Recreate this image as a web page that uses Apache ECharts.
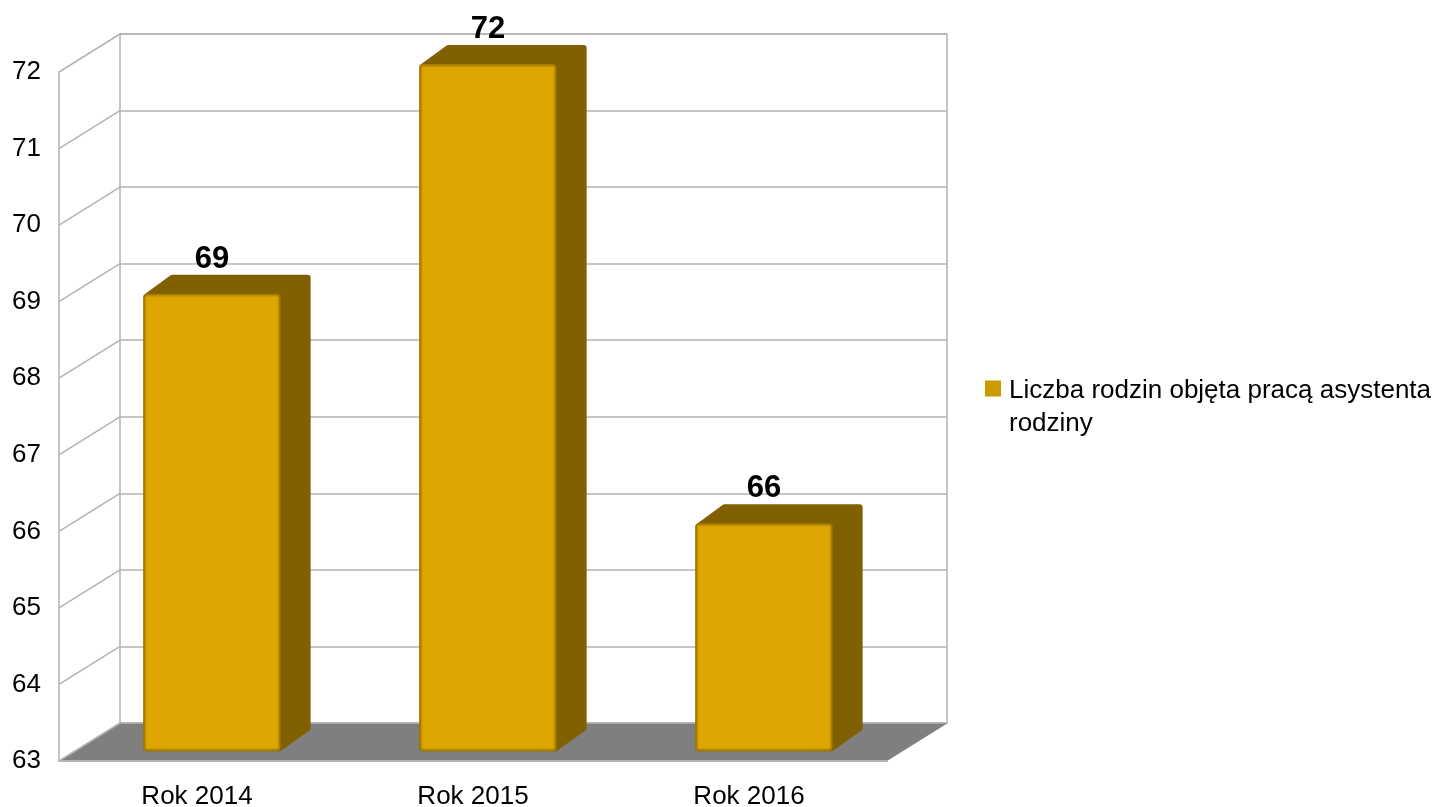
<!DOCTYPE html>
<html><head><meta charset="utf-8">
<style>html,body{margin:0;padding:0;background:#fff}#c{width:1439px;height:807px}</style>
<script src="https://cdn.jsdelivr.net/npm/echarts@6/dist/echarts.min.js"></script></head>
<body><div id="c"></div>
<script>
const categories = ['Rok 2014', 'Rok 2015', 'Rok 2016'];
const values = [69, 72, 66];
const yTicks = [63, 64, 65, 66, 67, 68, 69, 70, 71, 72];
const seriesName = 'Liczba rodzin objęta pracą asystenta\nrodziny';

const FONT = '"Liberation Sans", Arial, sans-serif';
const GRID_C = '#b3b3b3';
const WALL = [61, -38];
const DEPTH = [31, -20];
const BAR_BASE = 63.05;
const chart = echarts.init(document.getElementById('c'), null, {renderer: 'canvas'});

function yAxis(idx, shown) {
  return {
    type: 'value', gridIndex: idx, min: 63, max: 72, interval: 1, z: 3,
    axisLine: {show: shown, onZero: false, lineStyle: {color: GRID_C, width: 1.5}},
    axisTick: {show: false},
    axisLabel: {show: shown, margin: 18, padding: [3, 0, 0, 0], color: '#000', fontSize: 26, fontFamily: FONT},
    splitLine: {show: idx === 1, lineStyle: {color: GRID_C, width: 1.5}}
  };
}
function xAxis(idx, shown) {
  return {
    type: 'category', gridIndex: idx, data: categories, z: 3,
    axisLine: {show: shown, onZero: false, lineStyle: {color: GRID_C, width: 2}},
    axisTick: {show: false},
    axisLabel: {show: shown, margin: 23, color: '#000', fontSize: 26, fontFamily: FONT},
    splitLine: {show: false}
  };
}

function renderFloor(params, api) {
  const a = api.coord([0, 63]), s = api.size([1, 0]);
  const x0 = a[0] - s[0] / 2, x1 = x0 + s[0] * categories.length, y = a[1];
  return {type: 'polygon', shape: {points: [[x0, y], [x1, y], [x1 + WALL[0], y + WALL[1]], [x0 + WALL[0], y + WALL[1]]]},
    style: {fill: '#7f7f7f'}};
}
function renderSlant(params, api) {
  const p = api.coord([0, api.value(0)]), s = api.size([1, 0]);
  const x0 = p[0] - s[0] / 2;
  return {type: 'line', shape: {x1: x0, y1: p[1], x2: x0 + WALL[0], y2: p[1] + WALL[1]},
    style: {stroke: GRID_C, lineWidth: 1.5}};
}
function renderBar(params, api) {
  const top = api.coord([api.value(0), api.value(1)]);
  const base = api.coord([api.value(0), BAR_BASE]);
  const w = api.size([1, 0])[0] * 0.49;
  const l = top[0] - w / 2, r = top[0] + w / 2, dx = DEPTH[0], dy = DEPTH[1];
  const t = top[1], b = base[1];
  const inset = (d, fill) => ({type: 'rect', shape: {x: l - 1 + d, y: t - 1 + d, width: w + 2 - 2 * d, height: b - t + 2 - 2 * d, r: Math.max(4 - d, 0)}, style: {fill}});
  return {type: 'group', children: [
    {type: 'polygon', shape: {points: [[l + 2, t + 2], [l + dx - 3, t + dy + 3], [r + dx - 3, t + dy + 3], [r + dx - 3, b + dy - 2], [r, b - 2], [l + 2, b - 2]]},
      style: {fill: '#806000', stroke: '#806000', lineWidth: 6, lineJoin: 'round'}},
    inset(0, '#a37b00'),
    inset(1.5, '#c29200'),
    inset(3, '#dda600'),
    {type: 'text', x: top[0], y: t + dy,
      style: {text: String(api.value(1)), fill: '#000', font: 'bold 31px ' + FONT, align: 'center', verticalAlign: 'bottom'}}
  ]};
}

chart.setOption({
  animation: false,
  backgroundColor: '#fff',
  grid: [
    {left: 59, top: 72, width: 828, height: 689, outerBoundsMode: 'none'},
    {left: 120, top: 34, width: 827, height: 689, outerBoundsMode: 'none', show: true, backgroundColor: 'transparent', borderColor: GRID_C, borderWidth: 1.5},
    {left: 74, top: 65, width: 828, height: 689, outerBoundsMode: 'none'}
  ],
  xAxis: [xAxis(0, true), xAxis(1, false), xAxis(2, false)],
  yAxis: [yAxis(0, true), yAxis(1, false), yAxis(2, false)],
  legend: {
    show: true, left: 985, top: 374, padding: 0, orient: 'vertical',
    icon: 'path://M0 0H16V16H0Z M0 53L0 53Z', itemWidth: 16, itemHeight: 53, itemGap: 0,
    selectedMode: false, data: [seriesName],
    textStyle: {color: '#000', fontSize: 26, fontFamily: FONT, lineHeight: 33, padding: [0, 0, 0, 3]}
  },
  series: [
    {type: 'custom', name: 'floor', xAxisIndex: 0, yAxisIndex: 0, z: 1, renderItem: renderFloor, data: [[63]], silent: true, encode: {y: 0}},
    {type: 'custom', name: 'slant', xAxisIndex: 0, yAxisIndex: 0, z: 2, renderItem: renderSlant, data: yTicks.map(t => [t]), silent: true, encode: {y: 0}},
    {type: 'custom', name: seriesName, xAxisIndex: 2, yAxisIndex: 2, z: 5, itemStyle: {color: '#cc9900'}, renderItem: renderBar,
      data: values.map((v, i) => [i, v]), encode: {x: 0, y: 1}}
  ]
});
</script></body></html>
